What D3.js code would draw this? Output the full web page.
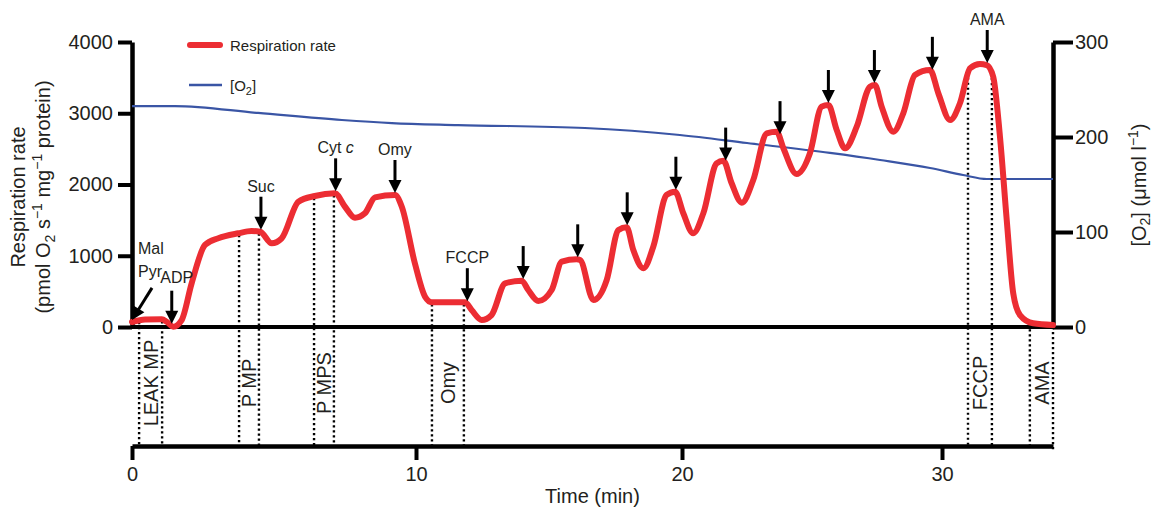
<!DOCTYPE html>
<meta charset="utf-8">
<script src="https://d3js.org/d3.v7.min.js"></script>
<style>
  body { margin: 0; background: #fff; }
  text { font-family: "Liberation Sans", Arial, sans-serif; fill: #231f20; }
</style>
<div id="chart"></div>
<script>
// ticks
const timeTicks = [0, 10, 20, 30];
const rateTicks = [0, 1000, 2000, 3000, 4000];
const o2Ticks = [0, 100, 200, 300];
const timeEnd = 34.27;

// respiration rate trace (min, pmol O2 s-1 mg-1)
const rateTime = [0, 0.46, 1.05, 1.22, 1.45, 1.75, 2.10, 2.57, 3.04, 3.74, 4.21, 4.51, 4.92, 5.27, 5.86,
  6.44, 7.15, 7.50, 7.85, 8.20, 8.56, 9.26, 9.50, 9.96, 10.34, 10.59, 11.84, 12.09, 12.47, 12.84,
  13.35, 13.97, 14.22, 14.60, 15.10, 15.48, 16.04, 16.17, 16.67, 17.17, 17.61, 17.92, 18.17, 18.55, 18.92,
  19.42, 19.74, 20.05, 20.43, 20.82, 21.33, 21.59, 21.91, 22.30, 22.74, 23.26, 23.64, 23.90, 24.41, 24.92,
  25.37, 25.63, 25.95, 26.27, 26.72, 27.23, 27.42, 27.68, 28.13, 28.51, 28.96, 29.54, 29.86, 30.31, 30.69,
  31.08, 31.46, 31.72, 31.97, 32.23, 32.49, 32.74, 33.00, 33.51, 34.27];
const rateValue = [70, 105, 108, 74, 5, 98, 613, 1151, 1245, 1315, 1347, 1338, 1175, 1245, 1759,
  1839, 1876, 1688, 1534, 1596, 1820, 1853, 1688, 894, 425, 347, 347, 239, 98, 168,
  613, 650, 519, 365, 519, 917, 950, 940, 379, 660, 1361, 1399, 1081, 824, 1127,
  1853, 1899, 1596, 1315, 1596, 2297, 2334, 2017, 1745, 2063, 2718, 2741, 2508, 2147, 2438,
  3092, 3116, 2765, 2508, 2811, 3373, 3396, 3092, 2741, 2999, 3537, 3607, 3280, 2905, 3140,
  3631, 3691, 3677, 3513, 2671, 1502, 473, 168, 52, 28];

// oxygen concentration trace (min, umol/l)
const o2Time = [0, 1.51, 4.44, 7.39, 9.15, 11.58, 16.35, 19.92, 22.5, 25.69, 27.62, 29.54, 30.81, 31.73, 34.27];
const o2Value = [232.6, 232.6, 225.3, 217.9, 214.7, 212.6, 209.5, 202.1, 193.7, 183.2, 175.8, 167.4, 160.0, 155.8, 155.8];

// marked phases
const phaseStart = [0.25, 3.77, 6.41, 10.60, 31.00, 33.38];
const phaseEnd = [1.06, 4.47, 7.11, 11.80, 31.92, 34.27];
const phaseLabels = ["LEAK MP", "P MP", "P MPS", "Omy", "FCCP", "AMA"];

// titration arrows
const arrowTimes = [0, 1.40, 4.54, 7.17, 9.26, 11.93, 14.03, 16.08, 17.94, 19.77, 21.68, 23.77, 25.63, 27.40, 29.63, 31.74];
const arrowLabels = ["Mal\nPyr", "ADP", "Suc", "Cyt c", "Omy", "FCCP", "", "", "", "", "", "", "", "", "", "AMA"];

const red = "#ec2d33", blue = "#3a55a5";
const width = 1153, height = 512;

const svg = d3.select("#chart").append("svg")
  .attr("width", width)
  .attr("height", height);

const x = d3.scaleLinear().domain([0, 10, 20, 30, timeEnd]).range([132, 416, 682, 942, 1053]);
const y = d3.scaleLinear().domain([0, 4000]).range([327, 42]);
const yO2 = d3.scaleLinear().domain([0, 300]).range([327, 42]);
const timeAxisY = 446;

function styleAxis(g) {
  g.attr("font-family", null).attr("font-size", null);
  g.select(".domain").attr("stroke", "#000").attr("stroke-width", 4.5);
  g.selectAll(".tick line").attr("stroke", "#000").attr("stroke-width", 4);
  g.selectAll(".tick text").attr("fill", "#231f20").style("font-size", "20px");
}

// axes
svg.append("g")
  .attr("transform", `translate(${x(0)},0)`)
  .call(d3.axisLeft(y).tickValues(rateTicks).tickFormat(d3.format("d")).tickSize(14).tickSizeOuter(0).tickPadding(5))
  .call(styleAxis);

svg.append("g")
  .attr("transform", `translate(${x(timeEnd)},0)`)
  .call(d3.axisRight(yO2).tickValues(o2Ticks).tickFormat(d3.format("d")).tickSize(20).tickSizeOuter(0).tickPadding(2))
  .call(styleAxis);

svg.append("g")
  .attr("transform", `translate(0,${timeAxisY})`)
  .call(d3.axisBottom(x).tickValues(timeTicks).tickFormat(d3.format("d")).tickSize(14).tickSizeOuter(0).tickPadding(7))
  .call(styleAxis);

svg.append("line")
  .attr("x1", x(0)).attr("x2", x(timeEnd))
  .attr("y1", y(0)).attr("y2", y(0))
  .attr("stroke", "#000").attr("stroke-width", 4);

// axis titles
const leftTitle = svg.append("g");
leftTitle.append("text")
  .attr("transform", `translate(24.5,197) rotate(-90)`)
  .attr("text-anchor", "middle").style("font-size", "20px")
  .text("Respiration rate");
const lt2 = leftTitle.append("text")
  .attr("transform", `translate(49.5,197) rotate(-90)`)
  .attr("text-anchor", "middle").style("font-size", "20px");
lt2.append("tspan").text("(pmol O");
lt2.append("tspan").attr("dy", 5).style("font-size", "14px").text("2");
lt2.append("tspan").attr("dy", -5).text(" s");
lt2.append("tspan").attr("dy", -8).style("font-size", "14px").text("\u22121");
lt2.append("tspan").attr("dy", 8).text(" mg");
lt2.append("tspan").attr("dy", -8).style("font-size", "14px").text("\u22121");
lt2.append("tspan").attr("dy", 8).text(" protein)");

const rt = svg.append("text")
  .attr("transform", `translate(1145.5,185) rotate(-90)`)
  .attr("text-anchor", "middle").style("font-size", "20px");
rt.append("tspan").text("[O");
rt.append("tspan").attr("dy", 4).style("font-size", "14px").text("2");
rt.append("tspan").attr("dy", -4).text("] (\u03bcmol l");
rt.append("tspan").attr("dy", -8).style("font-size", "14px").text("\u22121");
rt.append("tspan").attr("dy", 8).text(")");

svg.append("text")
  .attr("x", (x(0) + x(timeEnd)) / 2).attr("y", 502.5)
  .attr("text-anchor", "middle").style("font-size", "20px")
  .text("Time (min)");

// O2 line
const o2Data = o2Time.map((t, i) => [t, o2Value[i]]);
svg.append("path")
  .datum(o2Data)
  .attr("fill", "none").attr("stroke", blue).attr("stroke-width", 2.2)
  .attr("d", d3.line().x(d => x(d[0])).y(d => yO2(d[1])).curve(d3.curveMonotoneX));

// respiration rate line
const rateData = rateTime.map((t, i) => [t, rateValue[i]]);
const dotLayer = svg.append("g");
const redPath = svg.append("path")
  .datum(rateData)
  .attr("fill", "none").attr("stroke", red).attr("stroke-width", 6)
  .attr("stroke-linejoin", "round").attr("stroke-linecap", "round")
  .attr("d", d3.line().x(d => x(d[0])).y(d => y(d[1])).curve(d3.curveMonotoneX));

// sample the drawn curve so arrows and dotted lines meet it
const node = redPath.node();
const total = node.getTotalLength();
const samples = d3.range(0, total, 0.5).map(l => node.getPointAtLength(l));
function curveTop(px) {
  let best = null;
  for (const p of samples) {
    if (Math.abs(p.x - px) < 0.75 && (best === null || p.y < best.y)) best = p;
  }
  if (!best) best = samples.reduce((a, b) => Math.abs(b.x - px) < Math.abs(a.x - px) ? b : a);
  return best.y;
}

// dotted phase boundaries and labels
phaseStart.forEach((t0, i) => {
  [t0, phaseEnd[i]].forEach(t => {
    dotLayer.append("line")
      .attr("x1", x(t)).attr("x2", x(t))
      .attr("y1", Math.min(curveTop(x(t)), y(0)) + 2).attr("y2", timeAxisY + (t === timeEnd ? 4 : 0))
      .attr("stroke", "#000").attr("stroke-width", 2.4)
      .attr("stroke-dasharray", "2.2,2.8");
  });
  const xm = (x(t0) + x(phaseEnd[i])) / 2;
  svg.append("text")
    .attr("transform", `translate(${xm},383) rotate(-90)`)
    .attr("text-anchor", "middle").attr("dy", "0.36em")
    .style("font-size", "20px")
    .text(phaseLabels[i]);
});

// arrows
function drawArrow(x1, y1, x2, y2) {
  const a = Math.atan2(y2 - y1, x2 - x1);
  const hl = 13, hw = 6.5;
  const bx = x2 - hl * Math.cos(a), by = y2 - hl * Math.sin(a);
  svg.append("line")
    .attr("x1", x1).attr("y1", y1).attr("x2", bx + Math.cos(a)).attr("y2", by + Math.sin(a))
    .attr("stroke", "#000").attr("stroke-width", 3);
  svg.append("path")
    .attr("d", `M${x2},${y2}L${bx - hw * Math.sin(a)},${by + hw * Math.cos(a)}L${bx + hw * Math.sin(a)},${by - hw * Math.cos(a)}Z`)
    .attr("fill", "#000");
}

arrowTimes.forEach((t, i) => {
  const tx = x(t), ty = curveTop(tx) - 2;
  const label = arrowLabels[i];
  if (i === 0) {
    // diagonal arrow for the substrates
    drawArrow(tx + 20, ty - 32, tx, ty);
    label.split("\n").forEach((s, k) => {
      svg.append("text")
        .attr("x", tx + 6).attr("y", ty - 66 + k * 23)
        .style("font-size", "16px").text(s);
    });
    return;
  }
  drawArrow(tx, ty - 33, tx, ty);
  if (!label) return;
  const t2 = svg.append("text")
    .attr("x", tx + (label === "ADP" ? 5 : 0)).attr("y", ty - 38 + (label === "ADP" ? -3 : 0))
    .attr("text-anchor", "middle").style("font-size", "16px");
  if (label === "Cyt c") {
    t2.append("tspan").text("Cyt ");
    t2.append("tspan").style("font-style", "italic").text("c");
  } else {
    t2.text(label);
  }
});

// legend
const legend = svg.append("g");
legend.append("line")
  .attr("x1", 190).attr("x2", 220).attr("y1", 45).attr("y2", 45)
  .attr("stroke", red).attr("stroke-width", 6).attr("stroke-linecap", "round");
legend.append("text").attr("x", 230).attr("y", 51).style("font-size", "15px").text("Respiration rate");
legend.append("line")
  .attr("x1", 189).attr("x2", 222).attr("y1", 85).attr("y2", 85)
  .attr("stroke", blue).attr("stroke-width", 2.5);
const lg2 = legend.append("text").attr("x", 230).attr("y", 91).style("font-size", "15px");
lg2.append("tspan").text("[O");
lg2.append("tspan").attr("dy", 4).style("font-size", "11px").text("2");
lg2.append("tspan").attr("dy", -4).text("]");
</script>
